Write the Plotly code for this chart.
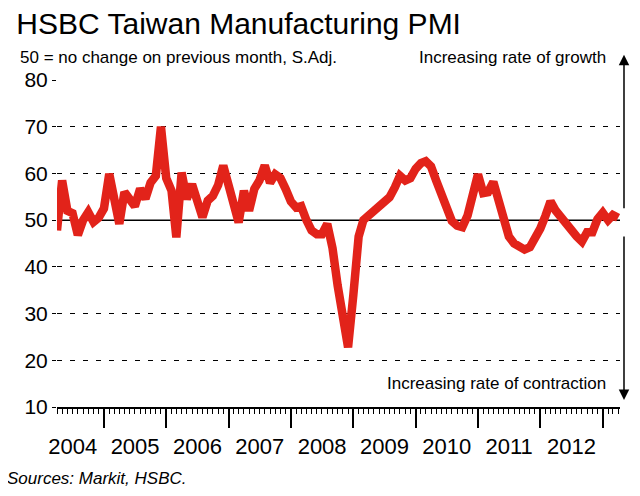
"""HSBC Taiwan Manufacturing PMI, Apr 2004 - Apr 2013"""
import pandas as pd
import plotly.graph_objects as go

# 月份（2004年4月起）
months = pd.date_range("2004-04-01", periods=109, freq="MS")

# PMI 读数，按年份分段
pmi_2004 = [47.8, 58.5, 52.0, 51.5, 46.8, 50.0, 51.7, 49.6, 50.5]
pmi_2005 = [52.5, 59.9, 55.5, 49.2, 56.0, 54.6, 53.0, 56.7, 54.6, 58.0, 59.5, 70.0]
pmi_2006 = [59.0, 56.3, 46.3, 60.2, 54.5, 57.7, 54.0, 50.6, 54.2, 55.2, 57.5, 61.7]
pmi_2007 = [57.5, 53.5, 49.5, 56.3, 52.0, 56.7, 58.5, 61.7, 58.0, 59.8, 59.0, 56.7]
pmi_2008 = [54.0, 52.7, 53.0, 50.0, 47.8, 47.0, 47.0, 49.2, 44.0, 36.0, 28.5, 22.8]
pmi_2009 = [34.0, 46.5, 50.0, 51.0, 52.0, 52.8, 53.5, 54.9, 57.0, 59.5, 58.5, 59.0]
pmi_2010 = [61.0, 62.2, 62.6, 61.5, 58.5, 55.5, 52.5, 49.8, 48.8, 48.5, 51.0, 55.0]
pmi_2011 = [59.8, 55.8, 56.0, 58.2, 54.5, 50.5, 46.5, 45.0, 44.2, 43.7, 44.2, 45.8]
pmi_2012 = [48.2, 51.0, 54.0, 52.0, 50.5, 49.0, 47.8, 46.5, 45.4, 47.4, 47.4, 50.2]
pmi_2013 = [51.6, 50.0, 51.1, 50.5]

pmi = (pmi_2004 + pmi_2005 + pmi_2006 + pmi_2007 + pmi_2008
       + pmi_2009 + pmi_2010 + pmi_2011 + pmi_2012 + pmi_2013)

y_ticks = [10, 20, 30, 40, 50, 60, 70, 80]

font = "Liberation Sans, Arial, sans-serif"

fig = go.Figure()
fig.add_trace(go.Scatter(
    x=months, y=pmi, mode="lines",
    line=dict(color="#e2231a", width=8.5),
    hoverinfo="x+y",
))

# 50 = 无变化
fig.add_hline(y=50, line_color="black", line_width=1.5, layer="below")

# 页面 body 默认有 8px 边距，边距里先扣掉
fig.update_layout(
    width=640, height=496,
    margin=dict(l=49, r=28, t=72, b=97),
    paper_bgcolor="white", plot_bgcolor="white",
    showlegend=False,
    font=dict(family=font, color="black"),
    title=dict(text="HSBC Taiwan Manufacturing PMI", x=0.013, xanchor="left",
               y=0.968, yanchor="middle", font=dict(size=30, color="black")),
)

fig.update_xaxes(
    range=["2004-04-01", "2013-04-12"],
    showline=True, linecolor="black", linewidth=1.5,
    showgrid=False, zeroline=False,
    ticks="outside", ticklen=19, tickwidth=1.5, tickcolor="black",
    dtick="M12", tick0="2004-01-01", tickformat="%Y", ticklabelmode="period",
    tickfont=dict(size=22),
    minor=dict(dtick="M1", ticks="outside", ticklen=5, tickcolor="black", tickwidth=1),
)

fig.update_yaxes(
    range=[10, 80], tickvals=y_ticks,
    showgrid=True, gridcolor="black", gridwidth=1, griddash="5px,8px",
    zeroline=False, showline=False,
    ticks="outside", ticklen=4, tickcolor="black",
    tickfont=dict(size=21),
)

notes = [
    dict(text="50 = no change on previous month, S.Adj.", x=-0.069, y=1.07,
         xanchor="left", size=17),
    dict(text="Increasing rate of growth", x=0.979, y=1.07, xanchor="right", size=17),
    dict(text="Increasing rate of contraction", x=0.979, y=0.073, xanchor="right", size=17),
    dict(text="<i>Sources: Markit, HSBC.</i>", x=-0.092, y=-0.22, xanchor="left", size=17),
]
for n in notes:
    fig.add_annotation(text=n["text"], xref="paper", yref="paper", x=n["x"], y=n["y"],
                       xanchor=n["xanchor"], yanchor="middle", showarrow=False,
                       font=dict(size=n["size"], color="black"))

# 右侧上下箭头
for tip_y, ay in [(1.077, 155), (0.0214, -165)]:
    fig.add_annotation(text="", xref="paper", yref="paper", x=1.0071, y=tip_y,
                       ax=0, ay=ay, showarrow=True, arrowhead=2, arrowsize=1.4,
                       arrowwidth=1.5, arrowcolor="black")

fig.write_html("out.html")
